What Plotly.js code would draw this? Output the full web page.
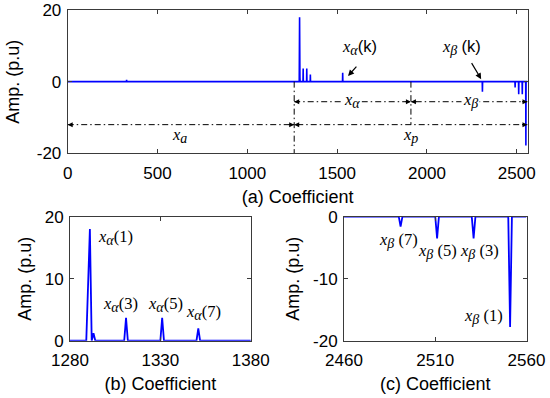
<!DOCTYPE html>
<html>
<head>
<meta charset="utf-8">
<script src="https://cdn.plot.ly/plotly-3.0.1.min.js"></script>
<style>html,body{margin:0;padding:0;background:#fff;}#chart{width:550px;height:398px;}</style>
</head>
<body>
<div id="chart"></div>
<script>
// Coefficient signal (index, amplitude) – sparse points, zero elsewhere
const coefIndex = [0, 327, 328, 329, 1289, 1291, 1292, 1293, 1294, 1310, 1311, 1312, 1330, 1331, 1332, 1350, 1351, 1352,
  1530, 1531, 1532, 2308, 2309, 2310, 2490, 2491, 2492, 2510, 2511, 2512, 2530, 2531, 2532, 2550, 2551, 2552, 2560];
const coefAmp = [0, 0, 0.5, 0, 0, 18, 0, 1.2, 0, 0, 3.7, 0, 0, 3.7, 0, 0, 2.0, 0,
  0, 2.5, 0, 0, -2.8, 0, 0, -1.6, 0, 0, -3.5, 0, 0, -3.5, 0, 0, -17.8, 0, 0];

// Tick values
const ticksA_x = [0, 500, 1000, 1500, 2000, 2500];
const ticksA_y = [-20, 0, 20];
const ticksB_x = [1280, 1330, 1380];
const ticksB_y = [0, 10, 20];
const ticksC_x = [2460, 2510, 2560];
const ticksC_y = [-20, -10, 0];

// Segment boundaries for the annotation arrows in (a)
const bounds = {start: 0, split: 1261, mid: 1911, end: 2560};
const levels = {upper: -5.6, lower: -12};

const blue = '#0000ff';
const frame = '#3a3a3a';
const sans = 'Liberation Sans, Arial, sans-serif';
const serif = 'Liberation Serif, Times New Roman, serif';
const tickFont = {family: sans, size: 17, color: '#000'};
const titleFont = {family: sans, size: 18, color: '#000'};

function axis(extra) {
  return Object.assign({
    showgrid: false, zeroline: false, showline: true, linecolor: frame, linewidth: 1,
    mirror: 'ticks', ticks: 'inside', ticklen: 4, tickcolor: frame, tickwidth: 1,
    tickfont: tickFont, tickmode: 'array', automargin: false, fixedrange: true
  }, extra);
}

const traces = [
  {x: coefIndex, y: coefAmp, xaxis: 'x', yaxis: 'y', mode: 'lines', line: {color: blue, width: 1.6}, hoverinfo: 'skip'},
  {x: coefIndex, y: coefAmp, xaxis: 'x2', yaxis: 'y2', mode: 'lines', line: {color: blue, width: 1.8}, hoverinfo: 'skip'},
  {x: coefIndex, y: coefAmp, xaxis: 'x3', yaxis: 'y3', mode: 'lines', line: {color: blue, width: 1.8}, hoverinfo: 'skip'}
];

const dd = {color: '#000', width: 1, dash: '6px,3px,1.5px,3px'};
const shapes = [
  {type: 'line', xref: 'x', yref: 'y', x0: bounds.split, x1: bounds.split, y0: 0, y1: -20, line: dd},
  {type: 'line', xref: 'x', yref: 'y', x0: bounds.mid, x1: bounds.mid, y0: 0, y1: levels.lower, line: dd},
  {type: 'line', xref: 'x', yref: 'y', x0: bounds.split, x1: bounds.end, y0: levels.upper, y1: levels.upper, line: dd},
  {type: 'line', xref: 'x', yref: 'y', x0: bounds.start, x1: bounds.end, y0: levels.lower, y1: levels.lower, line: dd}
];

function head(x, y, dir) {
  return {xref: 'x', yref: 'y', x: x, y: y, text: '', showarrow: true, arrowhead: 2, arrowsize: 1,
    arrowwidth: 1, arrowcolor: '#000', ax: dir === 'left' ? 7 : -7, ay: 0};
}
function mathLabel(text, x, y, ref, size) {
  return {xref: 'x' + ref, yref: 'y' + ref, x: x, y: y, text: text, showarrow: false,
    font: {family: serif, size: size || 16.5, color: '#000'}};
}

const sub = s => '<sub><span style="font-size:14px">' + s + '</span></sub>';
const xa = '<i>x</i>' + sub('<i>α</i>');
const xb = '<i>x</i>' + sub('<i>β</i>');
const kS = '<span style="font-family:Liberation Sans">(k)</span>';

const annotations = [
  head(bounds.split, levels.upper, 'left'), head(bounds.mid, levels.upper, 'right'),
  head(bounds.mid, levels.upper, 'left'), head(bounds.end, levels.upper, 'right'),
  head(bounds.start, levels.lower, 'left'), head(bounds.split, levels.lower, 'right'),
  head(bounds.split, levels.lower, 'left'), head(bounds.end, levels.lower, 'right'),
  Object.assign(mathLabel(xa, 1583, -5.2, ''), {bgcolor: '#fff'}),
  Object.assign(mathLabel(xb, 2240, -5.2, ''), {bgcolor: '#fff'}),
  mathLabel('<i>x</i>' + sub('<i>a</i>'), 625, -15.1, ''),
  mathLabel('<i>x</i>' + sub('<i>p</i>'), 1911, -15.1, ''),
  mathLabel(xa + kS, 1624, 9.4, ''),
  mathLabel(xb + ' ' + kS, 2194, 9.4, ''),
  {xref: 'x', yref: 'y', x: 1561, y: 1.6, ax: 1615, ay: 4.6, axref: 'x', ayref: 'y', text: '',
    showarrow: true, arrowhead: 2, arrowsize: 1, arrowwidth: 1.2, arrowcolor: '#000'},
  {xref: 'x', yref: 'y', x: 2302, y: 0.7, ax: 2244, ay: 5.6, axref: 'x', ayref: 'y', text: '',
    showarrow: true, arrowhead: 2, arrowsize: 1, arrowwidth: 1.2, arrowcolor: '#000'},
  mathLabel(xa + '(1)', 1305, 16.6, '2'),
  mathLabel(xa + '(3)', 1307.7, 5.9, '2'),
  mathLabel(xa + '(5)', 1333, 5.9, '2'),
  mathLabel(xa + '(7)', 1353.8, 4.5, '2'),
  mathLabel(xb + ' (7)', 2490, -3.8, '3'),
  mathLabel(xb + ' (5)', 2511, -5.6, '3'),
  mathLabel(xb + ' (3)', 2534, -5.6, '3'),
  mathLabel(xb + ' (1)', 2536.5, -16.1, '3')
];

const layout = {
  width: 550, height: 398, margin: {l: 0, r: 0, t: 0, b: 0},
  paper_bgcolor: '#fff', plot_bgcolor: '#fff', showlegend: false,
  xaxis: axis({domain: [0.1231, 0.9591], range: [0, 2560], tickvals: ticksA_x, ticktext: ticksA_x.map(String),
    ticklabelstandoff: 4, title: {text: '(a) Coefficient', font: titleFont, standoff: 8}, anchor: 'y'}),
  yaxis: axis({domain: [0.6148, 0.9749], range: [-20, 20], tickvals: ticksA_y, ticktext: ticksA_y.map(String),
    ticklabelstandoff: 2, title: {text: 'Amp. (p.u)', font: titleFont, standoff: 12}, anchor: 'x'}),
  xaxis2: axis({domain: [0.1273, 0.4558], range: [1280, 1380], tickvals: ticksB_x, ticktext: ticksB_x.map(String),
    ticklabelstandoff: 4, title: {text: '(b) Coefficient', font: titleFont, standoff: 8}, anchor: 'y2'}),
  yaxis2: axis({domain: [0.1440, 0.4555], range: [0, 20], tickvals: ticksB_y, ticktext: ticksB_y.map(String),
    ticklabelstandoff: 2, title: {text: 'Amp. (p.u)', font: titleFont, standoff: 8}, anchor: 'x2'}),
  xaxis3: axis({domain: [0.6255, 0.9573], range: [2460, 2560], tickvals: ticksC_x, ticktext: ticksC_x.map(String),
    ticklabelstandoff: 4, title: {text: '(c) Coefficient', font: titleFont, standoff: 8}, anchor: 'y3'}),
  yaxis3: axis({domain: [0.1440, 0.4555], range: [-20, 0], tickvals: ticksC_y, ticktext: ticksC_y.map(String),
    ticklabelstandoff: 2, title: {text: 'Amp. (p.u)', font: titleFont, standoff: 8}, anchor: 'x3'}),
  shapes: shapes,
  annotations: annotations
};

Plotly.newPlot('chart', traces, layout, {displayModeBar: false, staticPlot: true});
</script>
</body>
</html>
